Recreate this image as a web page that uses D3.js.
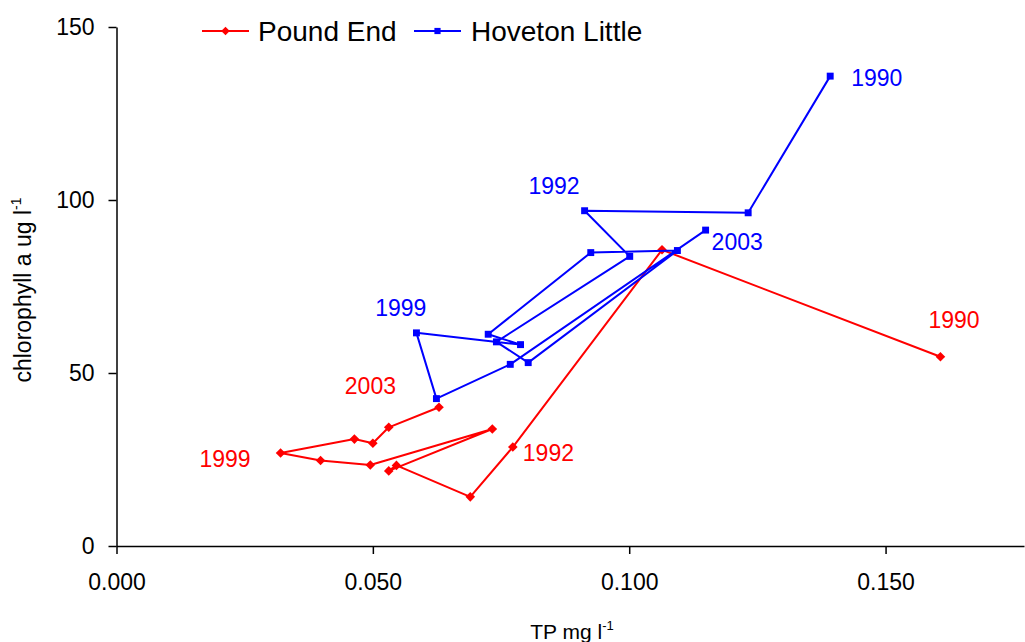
<!DOCTYPE html>
<html>
<head>
<meta charset="utf-8">
<script src="https://cdn.jsdelivr.net/npm/d3@7"></script>
<style>
  html, body { margin: 0; padding: 0; background: #fff; }
  svg { display: block; font-family: "Liberation Sans", Arial, sans-serif; }
</style>
</head>
<body>
<svg id="chart" width="1025" height="642"></svg>
<script>
// Total phosphorus (mg/l) vs chlorophyll a (ug/l), annual means 1990-2003
const seriesNames = ["Pound End", "Hoveton Little"];

const poundTP  = [0.1607, 0.1064, 0.0773, 0.0690, 0.0546, 0.0531, 0.0733, 0.0495, 0.0398, 0.0320, 0.0464, 0.0500, 0.0531, 0.0629];
const poundChl = [54.7, 85.6, 28.6, 14.2, 23.3, 21.7, 33.8, 23.4, 24.7, 26.9, 30.9, 29.7, 34.3, 40.1];

const hovetonTP  = [0.1392, 0.1232, 0.0913, 0.1001, 0.0741, 0.0803, 0.1094, 0.0925, 0.0725, 0.0788, 0.0585, 0.0624, 0.0768, 0.1149];
const hovetonChl = [135.8, 96.3, 96.9, 83.7, 59.0, 53.0, 85.4, 84.8, 61.2, 58.2, 61.6, 42.6, 52.5, 91.3];

// Year annotations: label text and the index of the point it marks
const poundYearLabels   = ["1990", "1992", "1999", "2003"];
const poundYearIndex    = [0, 2, 9, 13];
const hovetonYearLabels = ["1990", "1992", "1999", "2003"];
const hovetonYearIndex  = [0, 2, 10, 13];

const xTicks = [0, 0.05, 0.1, 0.15];
const yTicks = [0, 50, 100, 150];

const svg = d3.select("#chart");

const x = d3.scaleLinear().domain([0, 0.177]).range([116.5, 1024]);
const y = d3.scaleLinear().domain([0, 150]).range([546, 27]);

const font = "'Liberation Sans', Arial, sans-serif";

// Axes
const xAxis = d3.axisBottom(x).tickValues(xTicks).tickFormat(d3.format(".3f"))
  .tickSizeInner(8).tickSizeOuter(0).tickPadding(20);
const yAxis = d3.axisLeft(y).tickValues(yTicks).tickFormat(d3.format("d"))
  .tickSizeInner(8).tickSizeOuter(0).tickPadding(14);

const gx = svg.append("g").attr("transform", `translate(0,${y(0)})`).call(xAxis);
const gy = svg.append("g").attr("transform", `translate(${x(0)},0)`).call(yAxis);

[gx, gy].forEach(g => {
  g.select(".domain").attr("stroke", "#000").attr("stroke-width", 1.5);
  g.selectAll(".tick line").attr("stroke", "#000").attr("stroke-width", 1.5);
  g.selectAll(".tick text").attr("fill", "#000").style("font-family", font).style("font-size", "23px");
});

// Axis titles
const xTitle = svg.append("text")
  .attr("x", 572).attr("y", 639)
  .attr("text-anchor", "middle")
  .style("font-family", font).style("font-size", "21px").attr("fill", "#000");
xTitle.append("tspan").text("TP mg l");
xTitle.append("tspan").attr("dy", -9).style("font-size", "13px").text("-1");

const yTitle = svg.append("text")
  .attr("transform", "translate(31,290) rotate(-90)")
  .attr("text-anchor", "middle")
  .style("font-family", font).style("font-size", "23px").attr("fill", "#000");
yTitle.append("tspan").text("chlorophyll a ug l");
yTitle.append("tspan").attr("dy", -10).style("font-size", "14px").text("-1");

// Series (diamond = square turned 45 degrees)
const series = [
  { name: seriesNames[0], tp: poundTP, chl: poundChl, color: "#ff0000", marker: d3.symbolSquare, rot: 45, size: 46,
    labels: poundYearLabels, idx: poundYearIndex },
  { name: seriesNames[1], tp: hovetonTP, chl: hovetonChl, color: "#0000ff", marker: d3.symbolSquare, rot: 0, size: 48,
    labels: hovetonYearLabels, idx: hovetonYearIndex }
];

const line = d3.line().x(d => x(d[0])).y(d => y(d[1]));

series.forEach(s => {
  const pts = s.tp.map((v, i) => [v, s.chl[i]]);
  const g = svg.append("g");
  g.append("path").datum(pts)
    .attr("d", line).attr("fill", "none")
    .attr("stroke", s.color).attr("stroke-width", 2).attr("stroke-linejoin", "round");
  g.selectAll("path.pt").data(pts).enter().append("path")
    .attr("class", "pt")
    .attr("d", d3.symbol().type(s.marker).size(s.size))
    .attr("transform", d => `translate(${x(d[0])},${y(d[1])}) rotate(${s.rot})`)
    .attr("fill", s.color);
});

// Year label placement relative to each marked point
const labelLayout = {
  "Pound End": [
    { dx: -12, dy: -29, anchor: "start" },
    { dx: 10, dy: 14, anchor: "start" },
    { dx: -30, dy: 14, anchor: "end" },
    { dx: -43, dy: -13, anchor: "end" }
  ],
  "Hoveton Little": [
    { dx: 21, dy: 10, anchor: "start" },
    { dx: -5, dy: -17, anchor: "end" },
    { dx: 10, dy: -17, anchor: "end" },
    { dx: 6, dy: 20, anchor: "start" }
  ]
};

series.forEach(s => {
  s.labels.forEach((t, k) => {
    const i = s.idx[k];
    const L = labelLayout[s.name][k];
    svg.append("text")
      .attr("x", x(s.tp[i]) + L.dx).attr("y", y(s.chl[i]) + L.dy)
      .attr("text-anchor", L.anchor)
      .style("font-family", font).style("font-size", "23px")
      .attr("fill", s.color).text(t);
  });
});

// Legend
const legendItems = [
  { s: series[0], x0: 202, x1: 249, tx: 258 },
  { s: series[1], x0: 414, x1: 461, tx: 471 }
];
const ly = 31;
legendItems.forEach(it => {
  const g = svg.append("g");
  g.append("line").attr("x1", it.x0).attr("x2", it.x1).attr("y1", ly).attr("y2", ly)
    .attr("stroke", it.s.color).attr("stroke-width", 2);
  g.append("path")
    .attr("d", d3.symbol().type(it.s.marker).size(it.s.size * 0.8))
    .attr("transform", `translate(${(it.x0 + it.x1) / 2},${ly}) rotate(${it.s.rot})`)
    .attr("fill", it.s.color);
  g.append("text").attr("x", it.tx).attr("y", ly + 9.5)
    .style("font-family", font).style("font-size", "28px").attr("fill", "#000")
    .text(it.s.name);
});
</script>
</body>
</html>
